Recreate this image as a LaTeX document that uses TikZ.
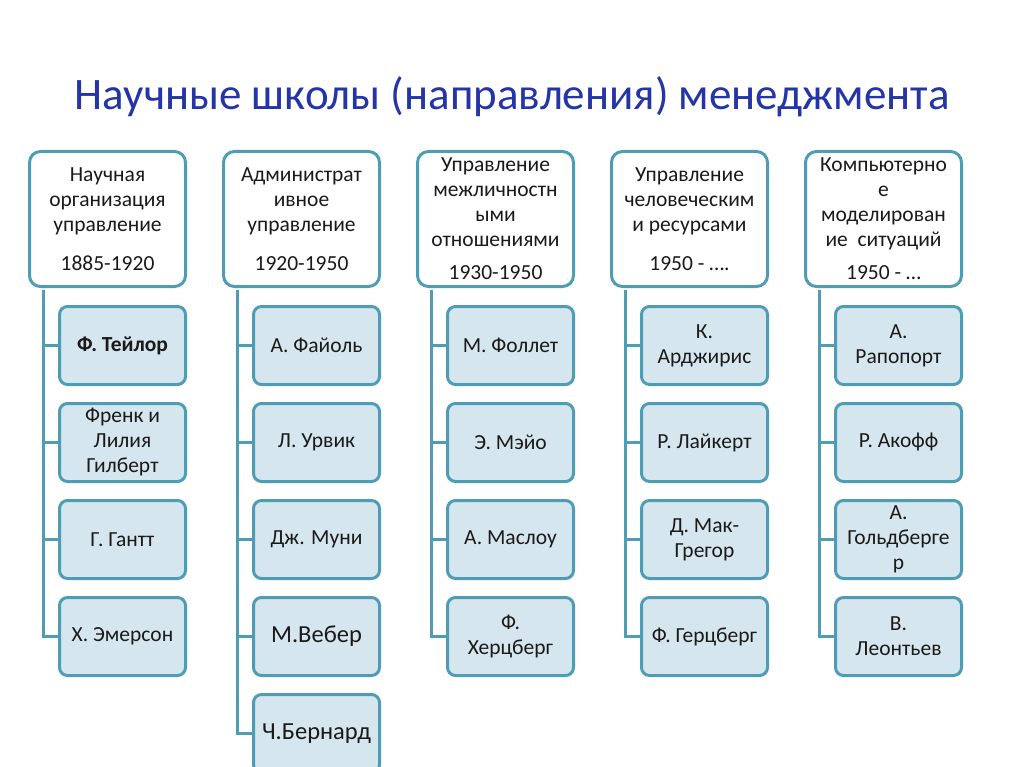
\documentclass[tikz,border=0pt]{standalone}
\usepackage{fontspec}
\setmainfont{Carlito}
\definecolor{ln}{HTML}{4E9DB4}
\definecolor{fillc}{HTML}{D6E6EE}
\definecolor{titlec}{HTML}{2535A8}
\definecolor{txt}{HTML}{1A1A1A}
\begin{document}
\begin{tikzpicture}[x=1pt,y=-1pt,
 head/.style={draw=ln, line width=3pt, fill=white, rounded corners=11pt, minimum width=156pt, minimum height=135pt, anchor=north west, inner sep=0pt, align=center, text=txt, font=\fontsize{21.5}{25}\selectfont},
 child/.style={draw=ln, line width=3pt, fill=fillc, rounded corners=8pt, minimum width=126pt, minimum height=78pt, anchor=north west, align=center, text=txt, font=\fontsize{21.5}{25}\selectfont, inner sep=0pt},
 big/.style={font=\fontsize{24.5}{28}\selectfont},
 conn/.style={draw=ln, line width=3pt}]
\useasboundingbox (0,0) rectangle (1024,767);
\clip (0,0) rectangle (1024,767);
\fill[white] (0,0) rectangle (1024,767);
\node[text=titlec, font=\fontsize{45}{52}\selectfont] (title) at (512,97) {Научные школы (направления) менеджмента};
% headers
\node[head] (h1) at (28,150) {Научная\\организация\\управление\\[14pt]1885-1920};
\node[head] (h2) at (222,150) {Администрат\\ивное\\управление\\[14pt]1920-1950};
\node[head] (h3) at (416,150) {Управление\\межличностн\\ыми\\отношениями\\[8pt]1930-1950};
\node[head] (h4) at (610,150) {Управление\\человеческим\\и ресурсами\\[14pt]1950 - ….};
\node[head] (h5) at (804,150) {Компьютерно\\е\\моделирован\\ие\ \ ситуаций\\[8pt]1950 - …};
% column 1
\node[child, font=\bfseries\fontsize{21.5}{25}\selectfont] (c11) at (58,305) {Ф. Тейлор};
\node[child] (c12) at (58,402) {Френк и\\Лилия\\Гилберт};
\node[child] (c13) at (58,499) {Г. Гантт};
\node[child] (c14) at (58,596) {Х. Эмерсон};
% column 2
\node[child] (c21) at (252,305) {А. Файоль};
\node[child] (c22) at (252,402) {Л. Урвик};
\node[child] (c23) at (252,499) {Дж. Муни};
\node[child, big] (c24) at (252,596) {М.Вебер};
\node[child, big] (c25) at (252,693) {Ч.Бернард};
% column 3
\node[child] (c31) at (446,305) {М. Фоллет};
\node[child] (c32) at (446,402) {Э. Мэйо};
\node[child] (c33) at (446,499) {А. Маслоу};
\node[child] (c34) at (446,596) {Ф.\\Херцберг};
% column 4
\node[child] (c41) at (640,305) {К.\\Арджирис};
\node[child] (c42) at (640,402) {Р. Лайкерт};
\node[child] (c43) at (640,499) {Д. Мак-\\Грегор};
\node[child] (c44) at (640,596) {Ф. Герцберг};
% column 5
\node[child] (c51) at (834,305) {А.\\Рапопорт};
\node[child] (c52) at (834,402) {Р. Акофф};
\node[child] (c53) at (834,499) {А.\\Гольдберге\\р};
\node[child] (c54) at (834,596) {В.\\Леонтьев};
% connectors
\foreach \h/\c in {1/1,1/2,1/3,1/4,2/1,2/2,2/3,2/4,2/5,3/1,3/2,3/3,3/4,4/1,4/2,4/3,4/4,5/1,5/2,5/3,5/4}{
  \draw[conn] ([xshift=15pt,yshift=-1.5pt]h\h.south west) |- (c\h\c.west);
}
\end{tikzpicture}
\end{document}
